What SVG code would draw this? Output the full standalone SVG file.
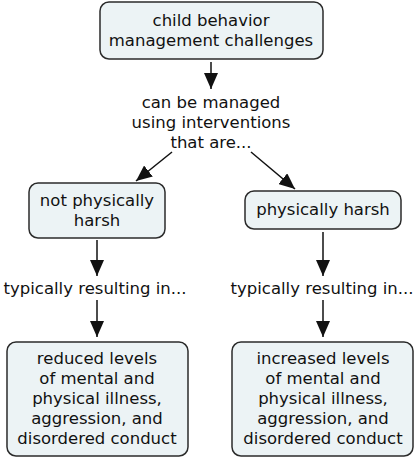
<svg xmlns="http://www.w3.org/2000/svg" width="420" height="459" viewBox="0 0 420 459">
<style>
.box{fill:#ecf3f5;stroke:#2b2b2b;stroke-width:1.5}
text{font-family:"DejaVu Sans",Verdana,sans-serif;font-size:16.5px;fill:#111;text-anchor:middle}
.c line{stroke:#111;stroke-width:1.5}
</style>
<defs>
<marker id="ahb" viewBox="0 0 16 14" refX="16" refY="7" markerWidth="16" markerHeight="14" markerUnits="userSpaceOnUse" orient="auto">
<path d="M0,0 L16,7 L0,14 Z" fill="#111"/>
</marker>
</defs>
<rect width="420" height="459" fill="#fff"/>
<g class="c" id="connectors">
<line x1="211" y1="62" x2="211" y2="89" marker-end="url(#ahb)"/>
<line x1="172" y1="152" x2="136" y2="181" marker-end="url(#ahb)"/>
<line x1="251" y1="152" x2="295" y2="189" marker-end="url(#ahb)"/>
<line x1="97" y1="240" x2="97" y2="276" marker-end="url(#ahb)"/>
<line x1="97" y1="300" x2="97" y2="337" marker-end="url(#ahb)"/>
<line x1="323" y1="232" x2="323" y2="276" marker-end="url(#ahb)"/>
<line x1="323" y1="300" x2="323" y2="337" marker-end="url(#ahb)"/>
</g>
<g id="n1"><rect class="box" x="100" y="2" width="223" height="57" rx="9"/>
<text x="211" y="26">child behavior</text><text x="211" y="46">management challenges</text></g>
<g id="l1"><text x="211" y="108">can be managed</text><text x="211" y="128">using interventions</text><text x="211" y="148">that are...</text></g>
<g id="n2"><rect class="box" x="29" y="183" width="136" height="55" rx="9"/>
<text x="97" y="206">not physically</text><text x="97" y="226">harsh</text></g>
<g id="n3"><rect class="box" x="245" y="191" width="156" height="38" rx="9"/>
<text x="323" y="215">physically harsh</text></g>
<g id="l2"><text x="95" y="294">typically resulting in...</text></g>
<g id="l3"><text x="322" y="294">typically resulting in...</text></g>
<g id="n4"><rect class="box" x="7" y="342" width="181" height="114" rx="9"/>
<text x="97" y="364">reduced levels</text><text x="97" y="384">of mental and</text><text x="97" y="404">physical illness,</text><text x="97" y="424">aggression, and</text><text x="97" y="444">disordered conduct</text></g>
<g id="n5"><rect class="box" x="232" y="342" width="181" height="114" rx="9"/>
<text x="323" y="364">increased levels</text><text x="323" y="384">of mental and</text><text x="323" y="404">physical illness,</text><text x="323" y="424">aggression, and</text><text x="323" y="444">disordered conduct</text></g>
</svg>
